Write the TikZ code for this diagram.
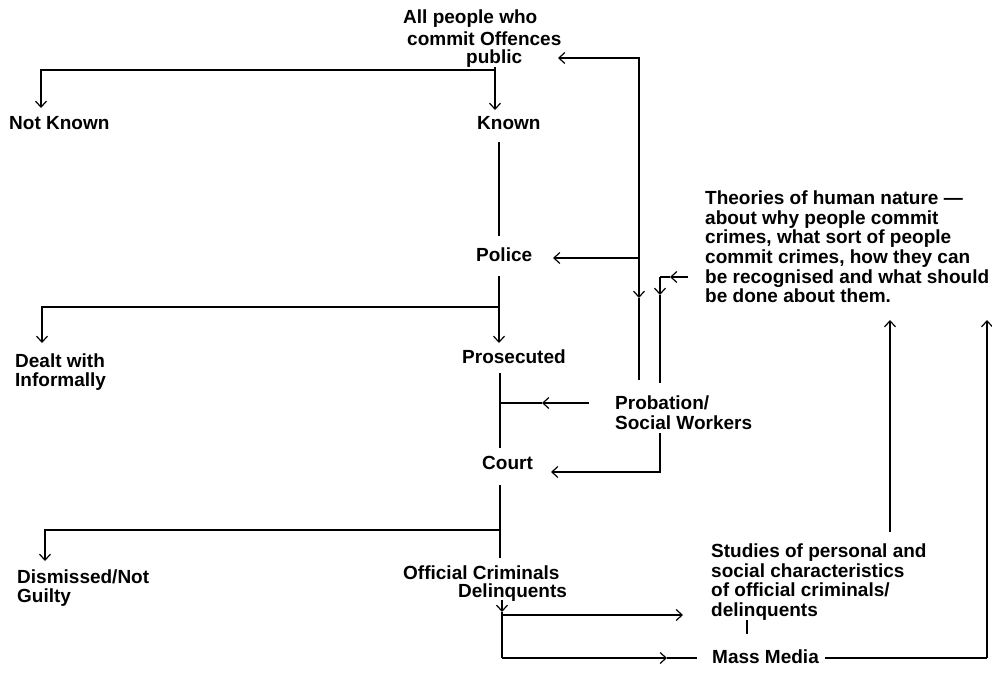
\documentclass[tikz,border=0pt]{standalone}
\usepackage{fontspec}
\setmainfont{Liberation Sans}
\usetikzlibrary{arrows.meta}
\begin{document}
\begin{tikzpicture}[x=1pt,y=-1pt,
  lbl/.style={font=\bfseries\fontsize{19}{19.6}\selectfont, inner sep=0pt, align=left, anchor=west},
  ln/.style={line width=1.2pt},
  arr/.style={ln, -{Straight Barb[length=6pt,width=11pt,line width=1.2pt]}}]
\useasboundingbox (0,0) rectangle (992,677);
% ---------- texts ----------
\node[lbl] (t1) at (403,19) {All people who};
\node[lbl] (t2) at (407,38.6) {commit Offences};
\node[lbl] (t3) at (466,58.2) {public};
\node[lbl] (notknown) at (9,123) {Not Known};
\node[lbl] (known) at (477,123) {Known};
\node[lbl] (police) at (476,255) {Police};
\node[lbl] (dealt) at (15,372) {Dealt with\\Informally};
\node[lbl] (pros) at (462,357) {Prosecuted};
\node[lbl] (prob) at (615,413) {Probation/\\Social Workers};
\node[lbl] (court) at (482,463) {Court};
\node[lbl] (dism) at (17,588) {Dismissed/Not\\Guilty};
\node[lbl] (off) at (403,573) {Official Criminals};
\node[lbl] (delq) at (458,592.8) {Delinquents};
\node[lbl] (theo) at (705,247) {Theories of human nature —\\about why people commit\\crimes, what sort of people\\commit crimes, how they can\\be recognised and what should\\be done about them.};
\node[lbl] (stud) at (711,582) {Studies of personal and\\social characteristics\\of official criminals/\\delinquents};
\node[lbl] (mass) at (712,657) {Mass Media};
% ---------- junctions ----------
\coordinate (j0) at (495,70);
\coordinate (j1) at (499,307);
\coordinate (j2) at (500,403);
\coordinate (j3) at (500,530);
\coordinate (j4) at (502,615);
\coordinate (j5) at (502,658);
\coordinate (pa) at (639,258);
\coordinate (pb) at (660,277);
% ---------- main chain ----------
\draw[ln] (t3.south -| j0) -- (j0);
\draw[arr] (j0) -- (495,110);
\draw[arr] (j0) -- (41,70) -- (41,108);
\draw[ln] (499,142) -- (499,236);
\draw[ln] (499,276) -- (j1);
\draw[arr] (j1) -- (499,343);
\draw[arr] (j1) -- (42,307) -- (42,343);
\draw[ln] (500,373) -- (500,448);
\draw[arr] (589,403) -- (542,403);
\draw[ln] (542,403) -- (j2);
\draw[ln] (500,485) -- (500,558);
\draw[arr] (j3) -- (45,530) -- (45,561);
\draw[arr] (502,600) -- (502,612);
\draw[ln] (502,612) -- (j5);
\draw[arr] (j4) -- (683,615);
\draw[arr] (j5) -- (667,658);
\draw[ln] (667,658) -- (697,658);
% ---------- mass media / studies to theories ----------
\draw[ln] ([xshift=6pt]mass.east |- j5) -- (987,658);
\draw[arr] (987,658) -- (987,320);
\draw[arr] (890,532) -- (890,320);
\draw[ln] (747,620) -- (747,634);
% ---------- probation feedback ----------
\draw[arr] (pa) -- (639,58) -- (558,58);
\draw[arr] (pa) -- (553,258);
\draw[arr] (pa) -- (639,298);
\draw[ln] (639,298) -- (639,380);
\draw[arr] (688,277) -- (670,277);
\draw[ln] (670,277) -- (pb);
\draw[arr] (pb) -- (660,295);
\draw[ln] (660,295) -- (660,383);
\draw[arr] (660,433) -- (660,472) -- (551,472);
\end{tikzpicture}
\end{document}
